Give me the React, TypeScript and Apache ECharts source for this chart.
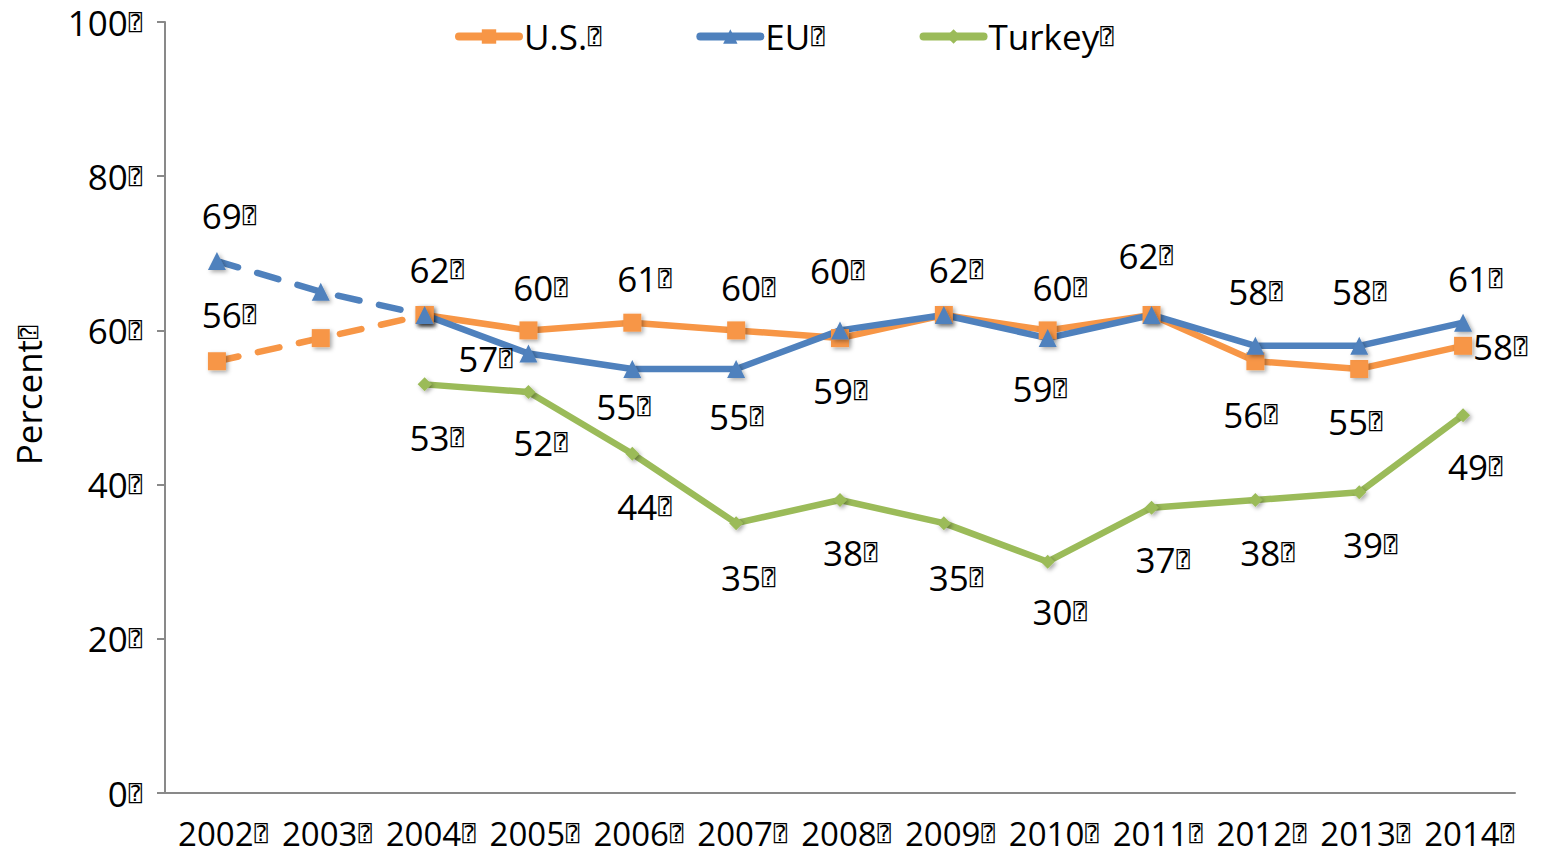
import React, { useEffect, useRef } from 'react';
import * as echarts from 'echarts';

const BOX = '\u2370';
const FONT = '"Open Sans", sans-serif';
const box = `{q|${BOX}}`;

const years = ['2002', '2003', '2004', '2005', '2006', '2007', '2008', '2009', '2010', '2011', '2012', '2013', '2014'];
const usValues = [56, 59, 62, 60, 61, 60, 59, 62, 60, 62, 56, 55, 58];
const euValues = [69, 65, 62, 57, 55, 55, 60, 62, 59, 62, 58, 58, 61];
const turkeyValues: (number | null)[] = [null, null, 53, 52, 44, 35, 38, 35, 30, 37, 38, 39, 49];
const dashedUntil = 2; // index of 2004: 2002-2004 drawn dashed for U.S. and EU

// label offsets from the point (dx, dy); null = no label
const usLabelOffsets: (number[] | null)[] = [[12, -47], null, [12, -45], [12, -43], [12, -44], [12, -43], [0, 52], [12, -45], [12, -43], null, [-5, 53], [-4, 53], [37, 1]];
const euLabelOffsets: (number[] | null)[] = [[12, -46], null, null, [-43, 5], [-9, 38], [0, 48], [-3, -60], null, [-8, 50], [-6, -59], [0, -54], [0, -54], [12, -44]];
const turkeyLabelOffsets: (number[] | null)[] = [null, null, [12, 53], [12, 50], [12, 53], [12, 54], [10, 52], [12, 54], [12, 50], [11, 52], [12, 52], [11, 52], [12, 51]];

const US_COLOR = '#F79646';
const EU_COLOR = '#4F81BD';
const TR_COLOR = '#9BBB59';

const rich = {
  q: {
    fontFamily: '"DejaVu Sans Mono", "DejaVu Sans", monospace',
    fontSize: 22,
    color: '#000',
    padding: [0, 0, 0, 1],
  },
};

function buildData(values: (number | null)[], offsets: (number[] | null)[], from: number, to: number, labelTo: number) {
  return values.map((v, i) => {
    if (v == null || i < from || i > to) return null;
    const off = i <= labelTo ? offsets[i] : null;
    return {
      value: v,
      label: off
        ? { show: true, position: 'inside', offset: off }
        : { show: false },
    };
  });
}

const labelBase = {
  color: '#000',
  fontFamily: FONT,
  fontSize: 35,
  formatter: (p: any) => `${p.value}${box}`,
  rich,
};

function makeSeries(name: string, color: string, symbol: string, size: number, data: any[], dashed: boolean) {
  return {
    name,
    type: 'line',
    data,
    symbol,
    symbolSize: size,
    showAllSymbol: true,
    connectNulls: false,
    lineStyle: {
      color,
      width: 6.5,
      type: dashed ? [22, 20] : 'solid',
      cap: 'round',
      join: 'round',
    },
    itemStyle: {
      color,
      shadowBlur: 4,
      shadowColor: 'rgba(0,0,0,0.35)',
      shadowOffsetX: 2,
      shadowOffsetY: 2,
    },
    label: { ...labelBase },
    emphasis: { disabled: true },
  };
}

export default function App() {
  const ref = useRef<HTMLDivElement>(null);
  useEffect(() => {
    if (!ref.current) return;
    const chart = echarts.init(ref.current, null, { renderer: 'svg' });
    const last = years.length - 1;
    chart.setOption({
      animation: false,
      backgroundColor: '#fff',
      textStyle: { fontFamily: FONT },
      legend: {
        data: ['U.S.', 'EU', 'Turkey'],
        left: 450,
        top: 14,
        itemWidth: 60,
        itemHeight: 18,
        itemGap: 95,
        formatter: (n: string) => `${n}${box}`,
        textStyle: { color: '#000', fontSize: 35, fontFamily: FONT, rich },
        lineStyle: { width: 8, cap: 'round' },
        selectedMode: false,
      },
      grid: { left: 165, right: 29, top: 22, bottom: 64, containLabel: false },
      xAxis: {
        type: 'category',
        data: years,
        boundaryGap: true,
        axisLine: { lineStyle: { color: '#898989', width: 2 } },
        axisTick: { show: false },
        axisLabel: {
          color: '#000',
          fontSize: 33,
          fontFamily: FONT,
          margin: 28,
          lineHeight: 24,
          padding: [0, 0, 0, 12],
          interval: 0,
          formatter: (v: string) => `${v}${box}`,
          rich,
        },
        splitLine: { show: false },
      },
      yAxis: {
        type: 'value',
        min: 0,
        max: 100,
        interval: 20,
        name: `Percent${box}`,
        nameLocation: 'middle',
        nameGap: 119,
        nameRotate: 90,
        nameTextStyle: { color: '#000', fontSize: 35, fontFamily: FONT, padding: [0, 0, 0, 24], rich },
        axisLine: { show: true, lineStyle: { color: '#898989', width: 2 } },
        axisTick: { show: true, length: 8, lineStyle: { color: '#898989', width: 2 } },
        axisLabel: {
          color: '#000',
          fontSize: 35,
          fontFamily: FONT,
          margin: 23,
          formatter: (v: number) => `${v}${box}`,
          rich,
        },
        splitLine: { show: false },
      },
      series: [
        makeSeries('U.S. (2002-2004)', US_COLOR, 'rect', 18, buildData(usValues, usLabelOffsets, 0, dashedUntil, dashedUntil - 1), true),
        makeSeries('EU (2002-2004)', EU_COLOR, 'triangle', 18, buildData(euValues, euLabelOffsets, 0, dashedUntil, dashedUntil - 1), true),
        makeSeries('U.S.', US_COLOR, 'rect', 18, buildData(usValues, usLabelOffsets, dashedUntil, last, last), false),
        makeSeries('EU', EU_COLOR, 'triangle', 18, buildData(euValues, euLabelOffsets, dashedUntil, last, last), false),
        makeSeries('Turkey', TR_COLOR, 'diamond', 14, buildData(turkeyValues, turkeyLabelOffsets, 0, last, last), false),
      ],
    });
    return () => chart.dispose();
  }, []);
  return <div ref={ref} style={{ width: 1544, height: 857, position: 'absolute', left: 0, top: 0 }} />;
}
